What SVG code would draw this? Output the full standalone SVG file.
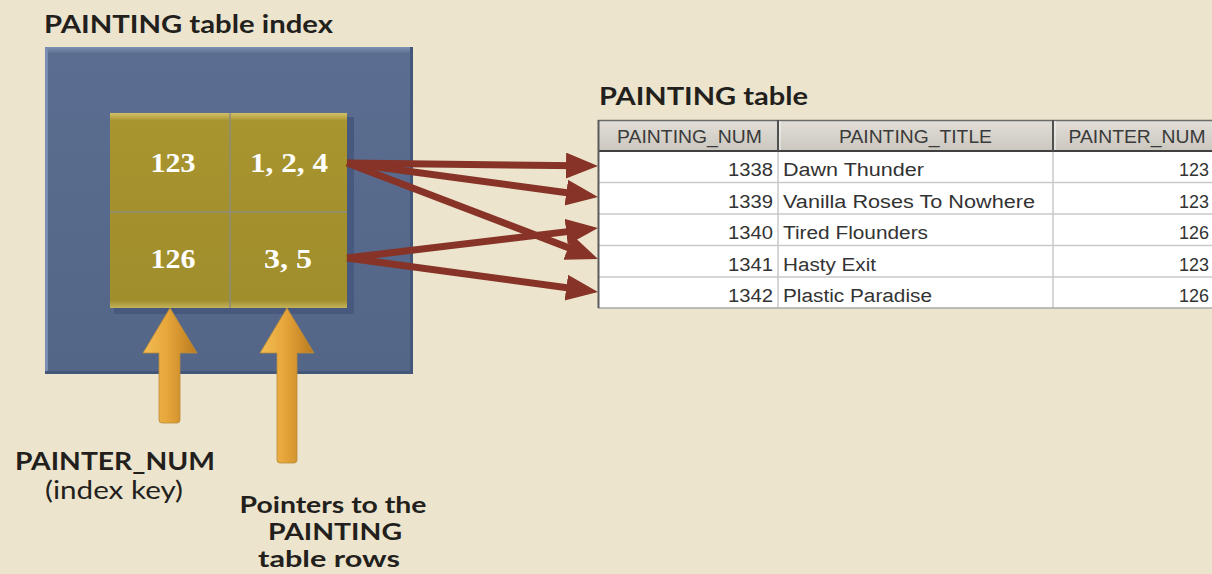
<svg xmlns="http://www.w3.org/2000/svg" width="1212" height="574" viewBox="0 0 1212 574">
<defs>
<style>
.title{font-family:Lato,"Open Sans","Liberation Sans",sans-serif;font-weight:bold;font-size:25px;fill:#231f1c}
.cell{font-family:"Liberation Serif","DejaVu Serif",serif;font-weight:bold;font-size:27px;fill:#ffffff;text-anchor:middle}
.lbl{font-family:Lato,"Open Sans","Liberation Sans",sans-serif;font-size:25px;fill:#231f1c;text-anchor:middle}
.ptl{font-family:Lato,"Open Sans","Liberation Sans",sans-serif;font-size:23px;font-weight:bold;fill:#231f1c;text-anchor:middle}
.tb{font-family:"Liberation Sans",Arial,sans-serif;font-size:18px;fill:#333333}
.hd{font-family:"Liberation Sans",Arial,sans-serif;font-size:18px;fill:#3a3a3a;text-anchor:middle}
.ptr{stroke:#873327;stroke-width:7;fill:none}
.grid{stroke:#c9c9c9;stroke-width:1.5}
</style>
<linearGradient id="blueG" x1="0" y1="0" x2="0" y2="1">
<stop offset="0" stop-color="#7d91b3"/>
<stop offset="0.02" stop-color="#5b6e91"/>
<stop offset="1" stop-color="#536688"/>
</linearGradient>
<linearGradient id="goldG" x1="0" y1="0" x2="0" y2="1">
<stop offset="0" stop-color="#d2c06a"/>
<stop offset="0.04" stop-color="#a8952f"/>
<stop offset="0.96" stop-color="#a08d2c"/>
<stop offset="1" stop-color="#c4b25a"/>
</linearGradient>
<linearGradient id="orG" x1="0" y1="0" x2="1" y2="0">
<stop offset="0" stop-color="#f2bd55"/>
<stop offset="0.45" stop-color="#e7a63a"/>
<stop offset="1" stop-color="#b97a1e"/>
</linearGradient>
<linearGradient id="hdG" x1="0" y1="0" x2="0" y2="1">
<stop offset="0" stop-color="#e2dfd8"/>
<stop offset="1" stop-color="#cbc7bf"/>
</linearGradient>
<marker id="ah" markerUnits="userSpaceOnUse" markerWidth="34" markerHeight="28" refX="12" refY="13" orient="auto">
<path d="M0,0 L32,13 L0,26 Z" fill="#873327"/>
</marker>
</defs>
<rect width="1212" height="574" fill="#ece4cd"/>

<g id="title-index">
<text class="title" x="44" y="33" textLength="289" lengthAdjust="spacingAndGlyphs">PAINTING table index</text>
</g>

<g id="index-box">
<rect x="45" y="47" width="368" height="327" fill="url(#blueG)"/>
<rect x="45" y="47" width="3" height="327" fill="#7a8db0"/>
<rect x="410" y="47" width="3" height="327" fill="#44577a"/>
<rect x="45" y="371" width="368" height="3" fill="#44577a"/>
<rect x="114" y="117" width="240" height="197" fill="#44557a" opacity="0.8"/>
<rect x="110" y="113" width="237" height="195" fill="url(#goldG)"/>
<line x1="230" y1="113" x2="230" y2="308" stroke="#8d8c7c" stroke-width="1.5"/>
<line x1="110" y1="212" x2="347" y2="212" stroke="#8d8c7c" stroke-width="1.5"/>
</g>

<g id="cell-123"><text class="cell" x="173" y="172" textLength="45" lengthAdjust="spacingAndGlyphs">123</text></g>
<g id="cell-124"><text class="cell" x="289" y="172" textLength="78" lengthAdjust="spacingAndGlyphs">1, 2, 4</text></g>
<g id="cell-126"><text class="cell" x="173" y="268" textLength="45" lengthAdjust="spacingAndGlyphs">126</text></g>
<g id="cell-35"><text class="cell" x="288" y="268" textLength="48" lengthAdjust="spacingAndGlyphs">3, 5</text></g>

<g id="key-arrows">
<path d="M170,308 L197,353 L180,353 L180,420 Q180,423 177,423 L162,423 Q159,423 159,420 L159,353 L143,353 Z" fill="url(#orG)" stroke="#b98a3a" stroke-width="0.8"/>
<path d="M287,308 L314,353 L297,353 L297,460 Q297,463 294,463 L280,463 Q277,463 277,460 L277,353 L260,353 Z" fill="url(#orG)" stroke="#b98a3a" stroke-width="0.8"/>
</g>

<g id="label-key">
<text class="lbl" x="115" y="470" font-weight="bold" textLength="200" lengthAdjust="spacingAndGlyphs">PAINTER_NUM</text>
<text class="lbl" x="114" y="499" textLength="138" lengthAdjust="spacingAndGlyphs">(index key)</text>
</g>

<g id="label-pointers">
<text class="ptl" x="333" y="513" textLength="187" lengthAdjust="spacingAndGlyphs">Pointers to the</text>
<text class="ptl" x="335" y="540" textLength="134" lengthAdjust="spacingAndGlyphs">PAINTING</text>
<text class="ptl" x="329" y="567" textLength="142" lengthAdjust="spacingAndGlyphs">table rows</text>
</g>

<g id="connectors">
<line class="ptr" x1="347" y1="163" x2="578" y2="165.76" marker-end="url(#ah)"/>
<line class="ptr" x1="347" y1="163" x2="578.18" y2="194.32" marker-end="url(#ah)"/>
<line class="ptr" x1="347" y1="258" x2="578.14" y2="230.37" marker-end="url(#ah)"/>
<line class="ptr" x1="347" y1="163" x2="579.32" y2="251.86" marker-end="url(#ah)"/>
<line class="ptr" x1="347" y1="258" x2="578.18" y2="289.32" marker-end="url(#ah)"/>
</g>

<g id="title-table">
<text class="title" x="599" y="105" textLength="209" lengthAdjust="spacingAndGlyphs">PAINTING table</text>
</g>

<g id="painting-table">
<rect x="598" y="120" width="614" height="31" fill="url(#hdG)"/>
<rect x="598" y="151" width="614" height="157" fill="#ffffff"/>
<line class="grid" x1="598" y1="182.5" x2="1212" y2="182.5"/>
<line class="grid" x1="598" y1="214" x2="1212" y2="214"/>
<line class="grid" x1="598" y1="245.5" x2="1212" y2="245.5"/>
<line class="grid" x1="598" y1="277" x2="1212" y2="277"/>
<line class="grid" x1="778" y1="151" x2="778" y2="308"/>
<line class="grid" x1="1053" y1="151" x2="1053" y2="308"/>
<line x1="598" y1="308" x2="1212" y2="308" stroke="#a8a8a8" stroke-width="1.5"/>
<line x1="598" y1="120.5" x2="1212" y2="120.5" stroke="#6a6a6a" stroke-width="1.5"/>
<line x1="598" y1="151" x2="1212" y2="151" stroke="#404040" stroke-width="2"/>
<line x1="598.5" y1="120" x2="598.5" y2="308" stroke="#5a5a5a" stroke-width="2"/>
<line x1="778" y1="120" x2="778" y2="151" stroke="#505050" stroke-width="2"/>
<line x1="780" y1="121" x2="780" y2="150" stroke="#f4f4f4" stroke-width="1"/>
<line x1="1053" y1="120" x2="1053" y2="151" stroke="#505050" stroke-width="2"/>
<line x1="1055" y1="121" x2="1055" y2="150" stroke="#f4f4f4" stroke-width="1"/>
<text class="hd" x="689.5" y="143" textLength="145" lengthAdjust="spacingAndGlyphs">PAINTING_NUM</text>
<text class="hd" x="915.5" y="143" textLength="153" lengthAdjust="spacingAndGlyphs">PAINTING_TITLE</text>
<text class="hd" x="1137" y="143" textLength="137" lengthAdjust="spacingAndGlyphs">PAINTER_NUM</text>
<g text-anchor="end">
<text class="tb" x="773" y="176" textLength="45" lengthAdjust="spacingAndGlyphs">1338</text>
<text class="tb" x="773" y="207.5" textLength="45" lengthAdjust="spacingAndGlyphs">1339</text>
<text class="tb" x="773" y="239" textLength="45" lengthAdjust="spacingAndGlyphs">1340</text>
<text class="tb" x="773" y="270.5" textLength="45" lengthAdjust="spacingAndGlyphs">1341</text>
<text class="tb" x="773" y="302" textLength="45" lengthAdjust="spacingAndGlyphs">1342</text>
<text class="tb" x="1209" y="176" textLength="30" lengthAdjust="spacingAndGlyphs">123</text>
<text class="tb" x="1209" y="207.5" textLength="30" lengthAdjust="spacingAndGlyphs">123</text>
<text class="tb" x="1209" y="239" textLength="30" lengthAdjust="spacingAndGlyphs">126</text>
<text class="tb" x="1209" y="270.5" textLength="30" lengthAdjust="spacingAndGlyphs">123</text>
<text class="tb" x="1209" y="302" textLength="30" lengthAdjust="spacingAndGlyphs">126</text>
</g>
<text class="tb" x="783" y="176" textLength="141" lengthAdjust="spacingAndGlyphs">Dawn Thunder</text>
<text class="tb" x="783" y="207.5" textLength="252" lengthAdjust="spacingAndGlyphs">Vanilla Roses To Nowhere</text>
<text class="tb" x="783" y="239" textLength="145" lengthAdjust="spacingAndGlyphs">Tired Flounders</text>
<text class="tb" x="783" y="270.5" textLength="93" lengthAdjust="spacingAndGlyphs">Hasty Exit</text>
<text class="tb" x="783" y="302" textLength="149" lengthAdjust="spacingAndGlyphs">Plastic Paradise</text>
</g>
</svg>
